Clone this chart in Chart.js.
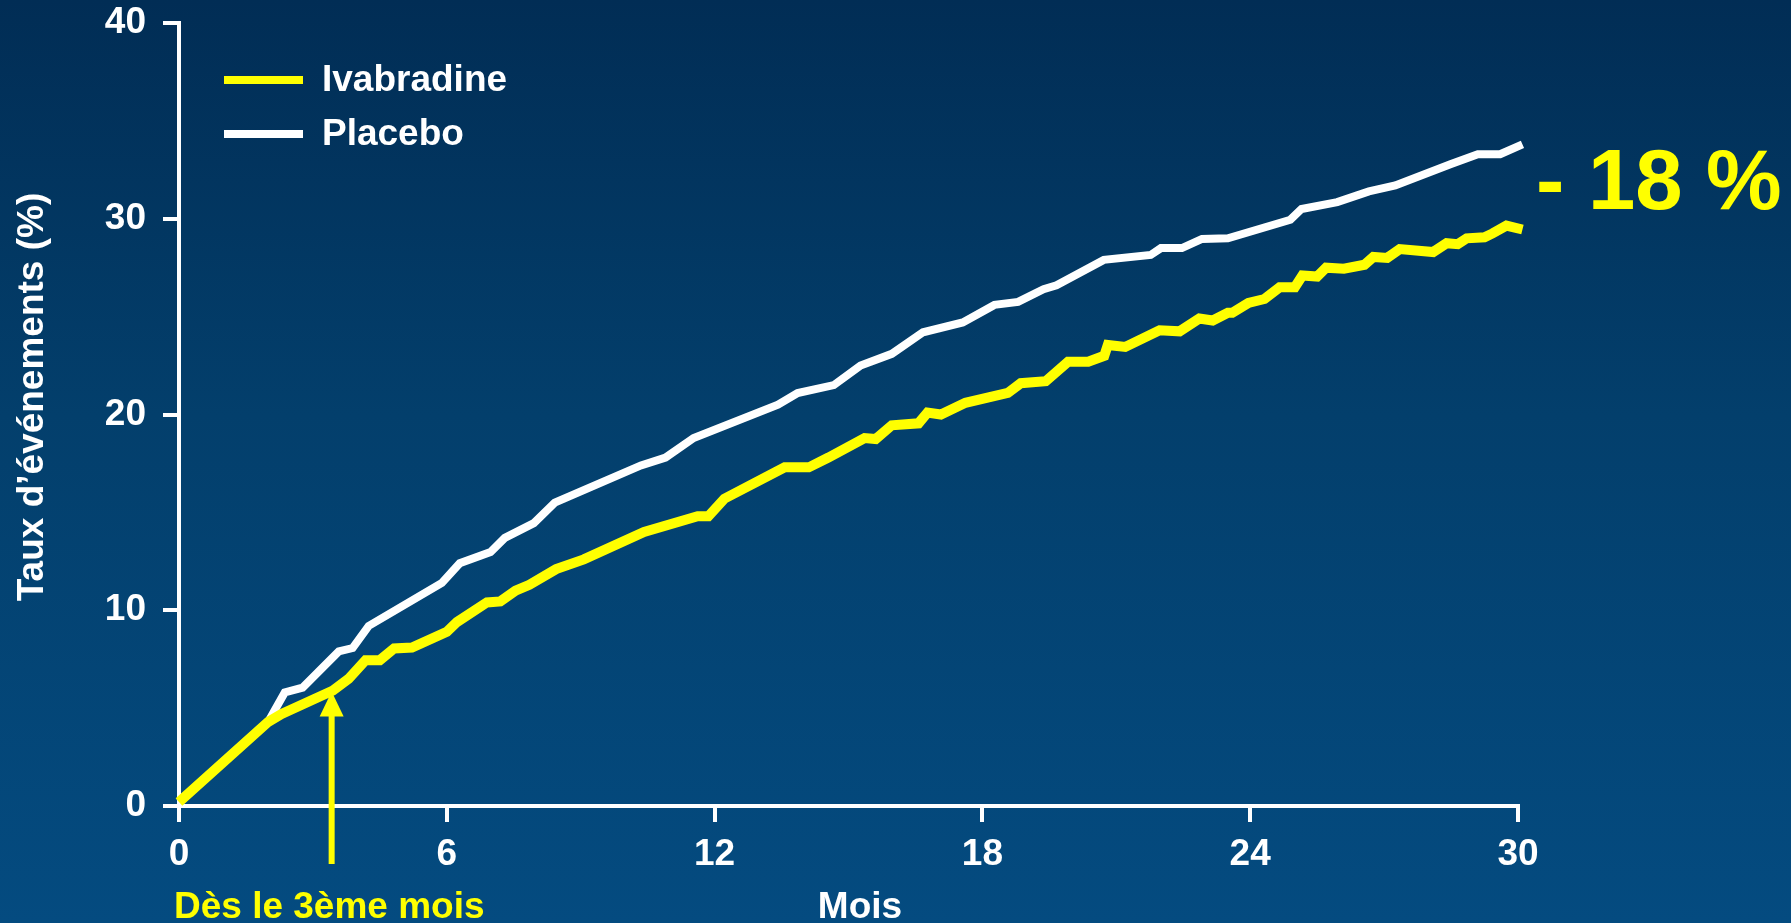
<!DOCTYPE html>
<html lang="fr">
<head>
<meta charset="utf-8">
<title>Taux d’événements</title>
<script src="https://cdn.jsdelivr.net/npm/chart.js@4.4.0/dist/chart.umd.min.js"></script>
<style>
  html, body { margin: 0; padding: 0; }
  body {
    width: 1791px; height: 923px; overflow: hidden;
    background: linear-gradient(to bottom, #012d55 0%, #033f6c 45%, #044b80 100%);
  }
</style>
</head>
<body>
<canvas id="chart" width="1791" height="923"></canvas>
<script>
// Kaplan-Meier style cumulative event rates
const ivabradineMonths = [0, 2.0, 2.3, 3.45, 3.8, 4.18, 4.5, 4.82, 5.22, 6.0, 6.23, 6.9, 7.2, 7.54, 7.85, 8.45, 9.07,
  10.42, 11.62, 11.86, 12.22, 13.57, 14.11, 14.55, 15.36, 15.61, 15.97, 16.57, 16.77, 17.07, 17.62, 18.57, 18.86,
  19.42, 19.92, 20.37, 20.73, 20.81, 21.2, 21.97, 22.42, 22.86, 23.16, 23.5, 23.6, 23.96, 24.32, 24.66, 25.0, 25.17,
  25.5, 25.7, 26.1, 26.56, 26.76, 27.07, 27.35, 28.1, 28.4, 28.65, 28.85, 29.25, 29.43, 29.74, 30.1];
const ivabradineRates = [0.2, 4.3, 4.7, 5.9, 6.5, 7.45, 7.45, 8.05, 8.1, 8.9, 9.4, 10.4, 10.45, 11.0, 11.3, 12.1, 12.6,
  14.0, 14.8, 14.8, 15.7, 17.3, 17.3, 17.8, 18.8, 18.75, 19.45, 19.55, 20.1, 20.0, 20.6, 21.1, 21.6,
  21.7, 22.7, 22.7, 23.0, 23.55, 23.45, 24.3, 24.25, 24.9, 24.8, 25.2, 25.2, 25.7, 25.9, 26.5, 26.5, 27.1,
  27.05, 27.5, 27.45, 27.65, 28.05, 28.0, 28.45, 28.3, 28.75, 28.7, 29.0, 29.05, 29.25, 29.65, 29.45];

const placeboMonths = [0, 2.0, 2.37, 2.77, 3.58, 3.89, 4.25, 5.89, 6.29, 6.98, 7.3, 7.95, 8.42, 10.35, 10.9, 11.53,
  13.42, 13.86, 14.67, 15.27, 15.97, 16.67, 17.56, 18.27, 18.8, 19.37, 19.66, 20.72, 21.77, 22.0, 22.47, 22.92,
  23.5, 24.9, 25.15, 25.95, 26.66, 27.25, 28.5, 29.1, 29.6, 30.1];
const placeboRates = [0.2, 4.3, 5.8, 6.05, 7.9, 8.07, 9.2, 11.4, 12.4, 12.97, 13.7, 14.45, 15.5, 17.4, 17.8, 18.8,
  20.5, 21.1, 21.5, 22.5, 23.1, 24.2, 24.7, 25.6, 25.75, 26.4, 26.6, 27.9, 28.15, 28.5, 28.5, 28.97,
  29.0, 29.95, 30.5, 30.85, 31.4, 31.7, 32.8, 33.3, 33.3, 33.8];

const seriesLabels = ['Ivabradine', 'Placebo'];
const xTickStep = 6;
const yTickStep = 10;
const xTitle = 'Mois';
const yTitle = 'Taux d’événements (%)';
const reductionLabel = '- 18 %';
const arrowLabel = 'Dès le 3ème mois';
const arrowMonth = 3.42;
const arrowRate = 5.85;

const YELLOW = '#ffff00';
const WHITE = '#ffffff';
const FAMILY = "'Liberation Sans', Arial, sans-serif";
const FONT = { family: FAMILY, size: 37, weight: 'bold' };

function toPoints(xs, ys) {
  return xs.map((m, i) => ({ x: m, y: ys[i] }));
}

const overlay = {
  id: 'overlay',
  afterDraw(chart) {
    const { ctx, scales: { x, y } } = chart;
    ctx.save();

    // legend, top left inside the plot
    chart.data.datasets.forEach((ds, i) => {
      const ly = 80 + i * 54;
      ctx.strokeStyle = ds.borderColor;
      ctx.lineWidth = 8;
      ctx.lineCap = 'butt';
      ctx.beginPath();
      ctx.moveTo(224, ly);
      ctx.lineTo(303, ly);
      ctx.stroke();
      ctx.fillStyle = WHITE;
      ctx.font = 'bold 37px ' + FAMILY;
      ctx.textBaseline = 'middle';
      ctx.textAlign = 'left';
      ctx.fillText(ds.label, 322, ly + 1);
    });

    // axis titles
    ctx.fillStyle = WHITE;
    ctx.font = 'bold 37px ' + FAMILY;
    ctx.textAlign = 'center';
    ctx.textBaseline = 'alphabetic';
    ctx.fillText(xTitle, 860, 918);

    ctx.save();
    ctx.translate(33, 397);
    ctx.rotate(-Math.PI / 2);
    ctx.textBaseline = 'middle';
    ctx.fillText(yTitle, 0, 0);
    ctx.restore();

    // -18 % label to the right of the curves
    ctx.fillStyle = YELLOW;
    ctx.font = 'bold 85px ' + FAMILY;
    ctx.textBaseline = 'alphabetic';
    ctx.textAlign = 'left';
    ctx.fillText(reductionLabel, 1536, 209);

    // arrow pointing at month 3
    const ax = x.getPixelForValue(arrowMonth);
    const tipY = y.getPixelForValue(arrowRate);
    ctx.strokeStyle = YELLOW;
    ctx.lineWidth = 6;
    ctx.beginPath();
    ctx.moveTo(ax, 864);
    ctx.lineTo(ax, tipY + 20);
    ctx.stroke();
    ctx.beginPath();
    ctx.moveTo(ax, tipY);
    ctx.lineTo(ax - 12, tipY + 25);
    ctx.lineTo(ax + 12, tipY + 25);
    ctx.closePath();
    ctx.fill();

    ctx.font = 'bold 37px ' + FAMILY;
    ctx.fillText(arrowLabel, 174, 918);
    ctx.restore();
  }
};

new Chart(document.getElementById('chart'), {
  type: 'line',
  data: {
    datasets: [
      {
        label: seriesLabels[0],
        data: toPoints(ivabradineMonths, ivabradineRates),
        borderColor: YELLOW,
        borderWidth: 10,
        borderJoinStyle: 'miter',
        pointRadius: 0,
        tension: 0,
        clip: false
      },
      {
        label: seriesLabels[1],
        data: toPoints(placeboMonths, placeboRates),
        borderColor: WHITE,
        borderWidth: 8,
        borderJoinStyle: 'miter',
        pointRadius: 0,
        tension: 0,
        clip: false
      }
    ]
  },
  options: {
    responsive: false,
    animation: false,
    devicePixelRatio: 1,
    layout: { padding: { left: 0, right: 273, top: 23, bottom: 0 } },
    plugins: {
      legend: { display: false },
      tooltip: { enabled: false }
    },
    scales: {
      x: {
        type: 'linear',
        min: 0,
        max: 30,
        afterFit: s => { s.height = 117; s.paddingLeft = 0; s.paddingRight = 0; },
        border: { color: WHITE, width: 4 },
        grid: { drawOnChartArea: false, drawTicks: true, tickLength: 16, color: WHITE, lineWidth: 4 },
        ticks: { stepSize: xTickStep, color: WHITE, font: FONT, padding: 11, maxRotation: 0 },
        title: { display: false }
      },
      y: {
        type: 'linear',
        min: 0,
        max: 40,
        afterFit: s => { s.width = 179; s.paddingTop = 0; s.paddingBottom = 0; },
        border: { color: WHITE, width: 4 },
        grid: { drawOnChartArea: false, drawTicks: true, tickLength: 16, color: WHITE, lineWidth: 4 },
        ticks: { stepSize: yTickStep, color: WHITE, font: FONT, padding: 17 },
        title: { display: false }
      }
    }
  },
  plugins: [overlay]
});
</script>
</body>
</html>
